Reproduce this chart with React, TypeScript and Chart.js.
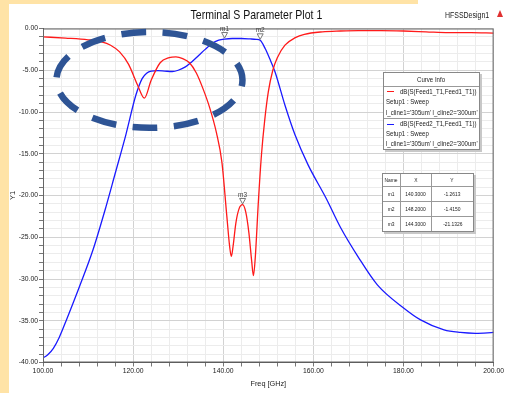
import React, { useEffect, useRef } from "react";
import { Chart, registerables } from "chart.js";

Chart.register(...registerables);

// ---- data ----
const redFreq = [100, 105, 110, 113, 115, 117, 119, 121, 122.5, 124, 126, 128, 129.5, 131, 132.5, 134, 135.5, 137, 138.5, 139.7, 140.8, 141.4, 141.8, 142.2, 142.8, 143.5, 144.3, 145, 145.7, 146.3, 146.7, 147.1, 147.8, 148.5, 149.2, 150, 151, 152, 153.7, 156, 158, 162, 166, 170, 175, 180, 185, 190, 195, 200];
const redDb = [-1.0, -1.15, -1.35, -1.6, -2.0, -2.8, -4.3, -6.8, -8.35, -6.2, -4.1, -3.5, -3.4, -3.6, -4.1, -5.3, -7.2, -9.5, -12.5, -16.0, -22.5, -26.0, -27.3, -26.0, -23.3, -21.6, -21.1, -22.0, -24.5, -27.8, -29.6, -27.5, -20.7, -15.0, -11.0, -7.6, -5.0, -3.5, -2.0, -1.1, -0.7, -0.4, -0.3, -0.25, -0.25, -0.3, -0.4, -0.5, -0.5, -0.55];

const blueFreq = [100, 101, 102.3, 103.6, 105.2, 108.1, 111.1, 114, 116, 118.4, 120.6, 122, 123, 124, 125.5, 127, 128.7, 130, 131.6, 133, 134.6, 136, 137.5, 139, 140.3, 142, 144, 146, 147.3, 148.2, 149.3, 150.3, 151.5, 153.7, 155.9, 158.8, 162.8, 166, 170, 174.2, 180.1, 183.8, 189, 192.6, 196, 200];
const blueDb = [-39.45, -39.1, -38.3, -37.0, -34.9, -30.9, -26.5, -21.3, -17.4, -12.7, -8.0, -6.0, -5.35, -5.1, -5.05, -5.1, -5.15, -5.0, -4.6, -4.0, -3.2, -2.5, -1.8, -1.4, -1.26, -1.2, -1.2, -1.25, -1.3, -1.415, -2.4, -3.6, -5.2, -9.2, -12.7, -16.3, -20.3, -23.8, -27.4, -30.7, -33.5, -34.9, -36.1, -36.4, -36.5, -36.4];

const markerNames = ["m1", "m2", "m3"];
const markerFreq = [140.3, 148.2, 144.3];
const markerDb = [-1.2613, -1.415, -21.1326];
const markerXText = ["140.3000", "148.2000", "144.3000"];
const markerYText = ["-1.2613", "-1.4150", "-21.1326"];

const xMin = 100, xMax = 200, xStep = 4, xLabelEvery = 20;
const yMin = -40, yMax = 0, yStep = 1, yLabelEvery = 5;

// highlighted region (annotation), in data units
const ellipseCenterFreq = 123.63;
const ellipseCenterDb = -6.16;
const ellipseHalfFreq = 20.64;
const ellipseHalfDb = 5.74;
const ellipseDashCount = 11;

const SANS = '"Liberation Sans", Arial, sans-serif';
const SQ = 0.82; // horizontal squeeze to mimic a narrow face

const isMult = (v: number, m: number) => Math.abs(v / m - Math.round(v / m)) < 1e-6;

const overlayPlugin = {
  id: "overlay",
  afterDatasetsDraw(chart: any) {
    const { ctx, chartArea: a, scales } = chart;
    const x = scales.x, y = scales.y;
    ctx.save();
    ctx.strokeStyle = "#666";
    ctx.lineWidth = 1;
    ctx.strokeRect(a.left + 0.5, a.top + 0.5, a.right - a.left - 1, a.bottom - a.top - 1);

    const cx = x.getPixelForValue(ellipseCenterFreq);
    const cy = y.getPixelForValue(ellipseCenterDb);
    const rx = Math.abs(x.getPixelForValue(ellipseCenterFreq + ellipseHalfFreq) - cx);
    const ry = Math.abs(y.getPixelForValue(ellipseCenterDb + ellipseHalfDb) - cy);
    const per = Math.PI * (3 * (rx + ry) - Math.sqrt((3 * rx + ry) * (rx + 3 * ry)));
    const period = per / ellipseDashCount;
    const dash = period * 0.6;
    ctx.setLineDash([dash, period - dash]);
    ctx.lineDashOffset = dash / 2 + 6;
    ctx.lineWidth = 6.5;
    ctx.strokeStyle = "#2E5495";
    ctx.beginPath();
    ctx.ellipse(cx, cy, rx, ry, 0, 0, Math.PI * 2);
    ctx.stroke();
    ctx.setLineDash([]);

    markerNames.forEach((n, i) => {
      const px = x.getPixelForValue(markerFreq[i]);
      const py = y.getPixelForValue(markerDb[i]);
      ctx.beginPath();
      ctx.moveTo(px, py - 1);
      ctx.lineTo(px - 3, py - 6.5);
      ctx.lineTo(px + 3, py - 6.5);
      ctx.closePath();
      ctx.fillStyle = "#fff";
      ctx.fill();
      ctx.lineWidth = 1;
      ctx.strokeStyle = "#777";
      ctx.stroke();
      ctx.fillStyle = "#444";
      ctx.font = `6.5px ${SANS}`;
      ctx.textAlign = "center";
      ctx.textBaseline = "bottom";
      ctx.fillText(n, px, py - 6.5);
    });
    ctx.restore();
  },
};

function T({ children, origin = "left center" }: { children: any; origin?: string }) {
  return (
    <span style={{ display: "inline-block", transform: `scaleX(${SQ})`, transformOrigin: origin, whiteSpace: "nowrap" }}>{children}</span>
  );
}

export default function App() {
  const ref = useRef<HTMLCanvasElement>(null);

  useEffect(() => {
    const chart = new Chart(ref.current!, {
      type: "line",
      data: {
        datasets: [
          {
            label: "dB(S(Feed1_T1,Feed1_T1))",
            data: redFreq.map((f, i) => ({ x: f, y: redDb[i] })),
            borderColor: "#FF1A1A",
            borderWidth: 1.3,
            pointRadius: 0,
            cubicInterpolationMode: "monotone",
            fill: false,
          },
          {
            label: "dB(S(Feed2_T1,Feed1_T1))",
            data: blueFreq.map((f, i) => ({ x: f, y: blueDb[i] })),
            borderColor: "#1A1AFF",
            borderWidth: 1.3,
            pointRadius: 0,
            cubicInterpolationMode: "monotone",
            fill: false,
          },
        ],
      },
      options: {
        animation: false,
        responsive: false,
        devicePixelRatio: 1,
        layout: { padding: { left: 0, right: 8, top: 28.5, bottom: 0 } },
        plugins: { legend: { display: false }, tooltip: { enabled: false }, title: { display: false } },
        scales: {
          x: {
            type: "linear",
            min: xMin,
            max: xMax,
            afterFit: (s: any) => { s.height = 30.5; },
            ticks: {
              stepSize: xStep,
              maxTicksLimit: 200,
              autoSkip: false,
              maxRotation: 0,
              minRotation: 0,
              padding: 1,
              color: "#222",
              font: { family: SANS, size: 6.8 },
              callback: (v: any) => (isMult(Number(v), xLabelEvery) ? Number(v).toFixed(2) : ""),
            },
            grid: {
              color: (c: any) => (c.tick && isMult(c.tick.value, xLabelEvery) ? "#d2d2d2" : "#ececec"),
              tickLength: 4,
              tickColor: "#777",
            },
            border: { display: true, color: "#555" },
            title: { display: true, text: "Freq [GHz]", color: "#222", font: { family: SANS, size: 7.3 }, padding: { top: 0, bottom: 5 } },
          },
          y: {
            type: "linear",
            min: yMin,
            max: yMax,
            afterFit: (s: any) => { s.width = 43; },
            ticks: {
              stepSize: yStep,
              maxTicksLimit: 200,
              autoSkip: false,
              padding: 1,
              color: "#222",
              font: { family: SANS, size: 6.8 },
              callback: (v: any) => (isMult(Number(v), yLabelEvery) ? (Math.abs(Number(v)) < 1e-9 ? "0.00" : Number(v).toFixed(2)) : ""),
            },
            grid: {
              color: (c: any) => (c.tick && isMult(c.tick.value, yLabelEvery) ? "#d2d2d2" : "#ececec"),
              tickLength: 4,
              tickColor: "#777",
            },
            border: { display: true, color: "#555" },
            title: { display: true, text: "Y1", color: "#222", font: { family: SANS, size: 7.5 }, padding: { top: 8.5, bottom: 0 } },
          },
        },
      },
      plugins: [overlayPlugin],
    } as any);
    return () => chart.destroy();
  }, []);

  const lineStyle = (top: number, left = 2) => ({
    position: "absolute" as const,
    left,
    top,
    height: 10,
    lineHeight: "10px",
    whiteSpace: "nowrap" as const,
  });

  const cell = (w: number, h: number, text: string, last = false) => (
    <div style={{ width: w, height: h, lineHeight: h + "px", textAlign: "center", borderRight: last ? "none" : "1px solid #999", whiteSpace: "nowrap" }}>
      <T origin="center center">{text}</T>
    </div>
  );

  const rowHeights = [12, 14, 14, 14];

  return (
    <div style={{ position: "fixed", left: 0, top: 0, width: 505, height: 393, background: "#FFE3A6", overflow: "hidden" }}>
      <div style={{ position: "absolute", left: 9, top: 4, right: 0, bottom: 0, background: "#fff" }} />
      <div style={{ position: "absolute", left: 418, top: 0, right: 0, height: 4, background: "#fff" }} />
      <canvas ref={ref} width={505} height={393} style={{ position: "absolute", left: 0, top: 0 }} />

      <div style={{ position: "absolute", left: 106, width: 300, top: 7, height: 18, lineHeight: "18px", textAlign: "center", font: `13.5px ${SANS}`, color: "#111" }}>
        <span style={{ display: "inline-block", transform: "scaleX(0.78)", transformOrigin: "center center", whiteSpace: "nowrap" }}>Terminal S Parameter Plot 1</span>
      </div>
      <div style={{ position: "absolute", left: 445, top: 10, height: 12, lineHeight: "12px", font: `8.5px ${SANS}`, color: "#222" }}>
        <T>HFSSDesign1</T>
      </div>
      <div style={{ position: "absolute", left: 497, top: 10, width: 0, height: 0, borderLeft: "3.5px solid transparent", borderRight: "3.5px solid transparent", borderBottom: "7px solid #E03030" }} />

      {/* Curve info box */}
      <div style={{ position: "absolute", left: 383, top: 72, width: 95, height: 76, background: "#fff", border: "1px solid #888", boxShadow: "2px 2px 0 #c8c8c8", font: `7.4px ${SANS}`, color: "#222" }}>
        <div style={{ position: "absolute", left: 0, right: 0, top: 1, height: 12, lineHeight: "12px", textAlign: "center" }}>
          <T origin="center center">Curve Info</T>
        </div>
        <div style={{ position: "absolute", left: 0, right: 0, top: 13, borderTop: "1px solid #999" }} />
        <div style={{ position: "absolute", left: 3, top: 18, width: 7, borderTop: "1px solid #FF1A1A" }} />
        <div style={lineStyle(13.5, 16)}><T>dB(S(Feed1_T1,Feed1_T1))</T></div>
        <div style={lineStyle(24)}><T>Setup1 : Sweep</T></div>
        <div style={lineStyle(34.5)}><T>l_cline1='305um' l_cline2='300um'</T></div>
        <div style={{ position: "absolute", left: 0, right: 0, top: 45, borderTop: "1px solid #999" }} />
        <div style={{ position: "absolute", left: 3, top: 50.5, width: 7, borderTop: "1px solid #1A1AFF" }} />
        <div style={lineStyle(46, 16)}><T>dB(S(Feed2_T1,Feed1_T1))</T></div>
        <div style={lineStyle(56)}><T>Setup1 : Sweep</T></div>
        <div style={lineStyle(65.5)}><T>l_cline1='305um' l_cline2='300um'</T></div>
      </div>

      {/* Marker table */}
      <div style={{ position: "absolute", left: 382, top: 173, width: 90, background: "#fff", border: "1px solid #888", boxShadow: "2px 2px 0 #c8c8c8", font: `6px ${SANS}`, color: "#222" }}>
        {[["Name", "X", "Y"], ...markerNames.map((n, i) => [n, markerXText[i], markerYText[i]])].map((r, ri) => (
          <div key={ri} style={{ display: "flex", borderTop: ri === 0 ? "none" : "1px solid #999" }}>
            {cell(17, rowHeights[ri], r[0])}
            {cell(30, rowHeights[ri], r[1])}
            {cell(41, rowHeights[ri], r[2], true)}
          </div>
        ))}
      </div>
    </div>
  );
}
